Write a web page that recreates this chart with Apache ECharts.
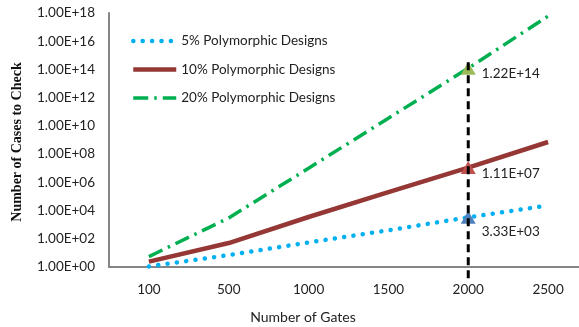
<!DOCTYPE html>
<html>
<head>
<meta charset="utf-8">
<script src="https://cdn.jsdelivr.net/npm/echarts@6/dist/echarts.min.js"></script>
<style>html,body{margin:0;padding:0;background:#fff}#c{width:579px;height:327px}</style>
</head>
<body>
<div id="c"></div>
<script>
var categories = ['100', '500', '1000', '1500', '2000', '2500'];
var seriesNames = ['5% Polymorphic Designs', '10% Polymorphic Designs', '20% Polymorphic Designs'];
var values5 = [1.1, 7, 55, 400, 3330, 23000];
var values10 = [2.4, 50, 3500, 2e5, 1.11e7, 7.2e8];
var values20 = [5.5, 3000, 1e7, 3.5e10, 1.22e14, 6e17];
var markerCategory = '2000';
var markerValues = [1.22e14, 1.11e7, 3330];
var guideRange = [0.16, 6e14];
var xTitle = 'Number of Gates';
var yTitle = 'Number of Cases to Check';

function sci(v) {
  var e = Math.floor(Math.log10(v) + 1e-9);
  var m = v / Math.pow(10, e);
  var s = m.toFixed(2);
  if (parseFloat(s) >= 10) { e += 1; s = (v / Math.pow(10, e)).toFixed(2); }
  var es = String(Math.abs(e));
  if (es.length < 2) es = '0' + es;
  return s + 'E' + (e < 0 ? '-' : '+') + es;
}

var mi = categories.indexOf(markerCategory);
var font = 'Lato';
var chart = echarts.init(document.getElementById('c'), null, {renderer: 'canvas'});
var markerColors = ['#9BBB59', '#C0504D', '#4F81BD'];
var labelOffsets = [[1, 5], [1, 6], [1, 14]];
var lineStyles = [
  {color: '#00B0F0', width: 4.5, type: [0.1, 9.3], cap: 'round'},
  {color: '#953735', width: 4.5, type: 'solid'},
  {color: '#00B050', width: 3.5, type: [15, 6, 2.5, 6]}
];

chart.setOption({
  animation: false,
  backgroundColor: '#fff',
  grid: {left: 109, top: 13, bottom: 60, right: -9, containLabel: false, outerBoundsMode: 'none'},
  legend: {
    orient: 'vertical', left: 126, top: 29, itemWidth: 43, itemHeight: 14, itemGap: 14.5,
    textStyle: {fontFamily: font, fontSize: 13.5, color: '#222'},
    itemStyle: {color: 'rgba(0,0,0,0)', borderWidth: 0, opacity: 0},
    data: seriesNames.map(function (n, i) { return {name: n, lineStyle: lineStyles[i]}; })
  },
  xAxis: {
    type: 'category', data: categories, boundaryGap: true,
    axisLine: {lineStyle: {color: '#868686', width: 2}},
    axisTick: {show: false},
    axisLabel: {fontFamily: font, fontSize: 13.5, color: '#222', margin: 16},
    splitLine: {show: false}
  },
  yAxis: {
    type: 'log', logBase: 10, min: 1, max: 1e18, interval: 2,
    axisLine: {show: true, lineStyle: {color: '#868686', width: 2}},
    axisTick: {show: false},
    splitLine: {show: false},
    axisLabel: {fontFamily: font, fontSize: 13.5, color: '#222', margin: 14,
      formatter: function (v) { return sci(v); }}
  },
  graphic: [
    {type: 'text', x: 17, y: 142, rotation: Math.PI / 2,
      style: {text: yTitle, font: 'bold 14px "Liberation Serif"', fill: '#111', align: 'center', verticalAlign: 'middle'}},
    {type: 'text', x: 303, y: 317,
      style: {text: xTitle, font: '14px Lato', fill: '#222', align: 'center', verticalAlign: 'middle'}}
  ],
  series: [
    {name: seriesNames[0], type: 'line', data: values5, symbol: 'none', z: 2,
      lineStyle: lineStyles[0], itemStyle: {color: '#00B0F0'}},
    {name: seriesNames[1], type: 'line', data: values10, symbol: 'none', z: 2,
      lineStyle: lineStyles[1], itemStyle: {color: '#953735'}},
    {name: seriesNames[2], type: 'line', data: values20, symbol: 'none', z: 2,
      lineStyle: lineStyles[2], itemStyle: {color: '#00B050'}},
    {name: 'markers', type: 'scatter', symbol: 'triangle', symbolSize: [15, 13], z: 3,
      data: markerValues.map(function (v, i) {
        return {value: [mi, v], itemStyle: {color: markerColors[i], opacity: 1},
          label: {show: true, position: 'right', offset: labelOffsets[i], formatter: sci(v),
            fontFamily: font, fontSize: 13.5, color: '#222'}};
      })},
    {name: 'guide', type: 'line', symbol: 'none', z: 4, clip: false,
      data: [[mi, guideRange[0]], [mi, guideRange[1]]],
      lineStyle: {color: '#000', width: 3, type: [8, 5]}}
  ]
});
</script>
</body>
</html>
